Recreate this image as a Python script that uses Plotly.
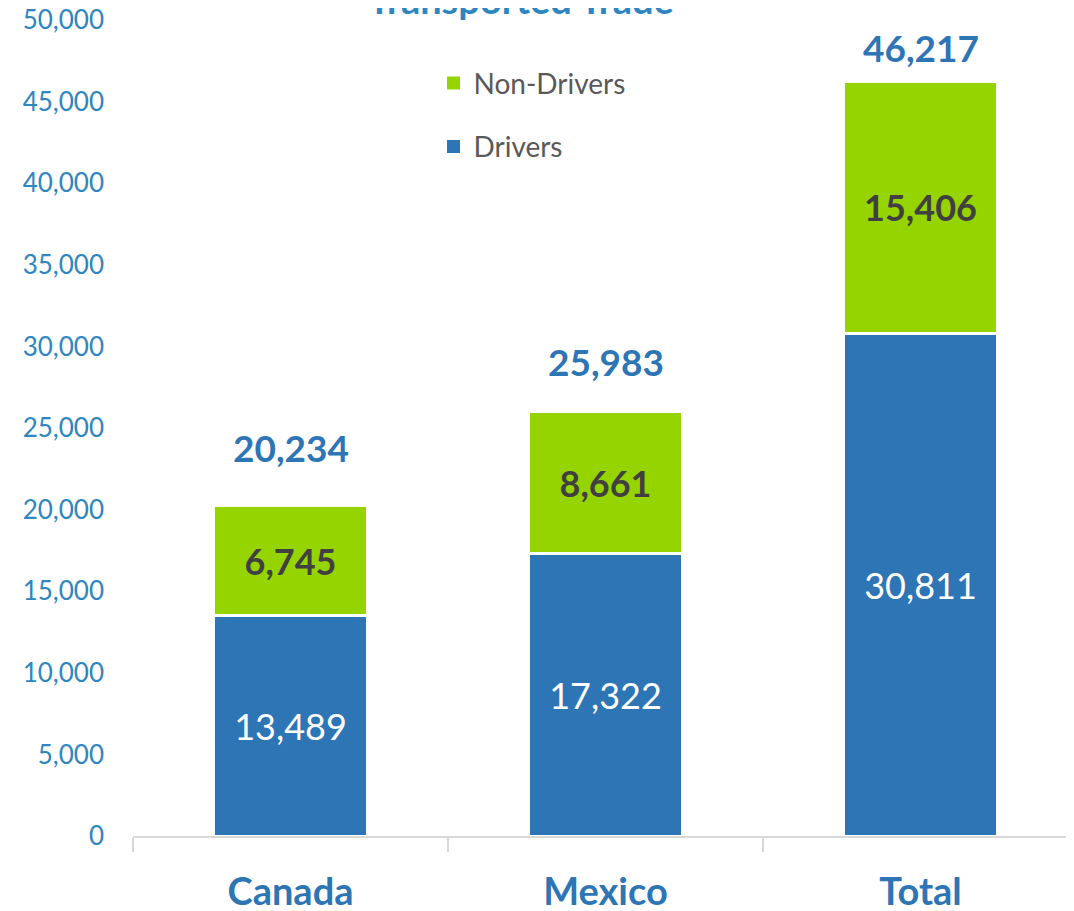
import plotly.graph_objects as go

# 数据
categories = ["Canada", "Mexico", "Total"]
drivers = [13489, 17322, 30811]
non_drivers = [6745, 8661, 15406]
totals = [20234, 25983, 46217]
y_ticks = [0, 5000, 10000, 15000, 20000, 25000, 30000, 35000, 40000, 45000, 50000]

BLUE = "#2E75B6"
GREEN = "#96D400"
FONT = "Lato"
TOTAL_SHIFT = [34, 26, 10]  # 合计标签离柱顶的像素距离（原图不等距）

fig = go.Figure()
fig.add_trace(go.Bar(x=categories, y=drivers, name="Drivers", showlegend=False,
                     marker=dict(color=BLUE, line=dict(color="white", width=3)),
                     text=[f"{v:,}" for v in drivers], textposition="inside",
                     insidetextanchor="middle", textangle=0,
                     insidetextfont=dict(family=FONT, size=36, color="white")))
fig.add_trace(go.Bar(x=categories, y=non_drivers, name="Non-Drivers", showlegend=False,
                     marker=dict(color=GREEN, line=dict(color="white", width=3)),
                     text=[f"<b>{v:,}</b>" for v in non_drivers], textposition="inside",
                     insidetextanchor="middle", textangle=0,
                     insidetextfont=dict(family=FONT, size=36, color="#404040")))

# 图例：方块标记（柱子的白边会把图例方块吃掉）
for name, color, rank in [("Non-Drivers", GREEN, 1), ("Drivers", BLUE, 2)]:
    fig.add_trace(go.Scatter(x=[None], y=[None], mode="markers", name=name,
                             legendgroup=name, legendrank=rank,
                             marker=dict(symbol="square", size=13, color=color)))

# 合计标签
for c, t, s in zip(categories, totals, TOTAL_SHIFT):
    fig.add_annotation(x=c, y=t, text=f"<b>{t:,}</b>", showarrow=False,
                       yanchor="bottom", yshift=s,
                       font=dict(family=FONT, size=37, color=BLUE))

# 标题（被裁切）
fig.add_annotation(xref="paper", yref="paper", x=0.411, y=0.995, yanchor="bottom",
                   text="<b>Transported Trade</b>", showarrow=False,
                   font=dict(family=FONT, size=38, color="#2E86C1"))

# 页面 body 有 8px 边距，边距里扣掉
fig.update_layout(
    width=1074, height=911, barmode="stack", bargap=0.51,
    plot_bgcolor="white", paper_bgcolor="white",
    margin=dict(l=125, r=4, t=12, b=83),
    font=dict(family=FONT),
    legend=dict(x=0.318, y=0.953, xanchor="left", yanchor="top",
                traceorder="grouped", tracegroupgap=24,
                font=dict(family=FONT, size=28, color="#595959"),
                bgcolor="rgba(0,0,0,0)"),
    xaxis=dict(automargin=False, showline=True, linecolor="#D9D9D9", linewidth=2,
               ticks="outside", tickson="boundaries", ticklen=14,
               tickcolor="#D9D9D9", tickwidth=2, ticklabelstandoff=21,
               ticklabeloverflow="allow",
               tickfont=dict(family=FONT, size=38, color=BLUE),
               tickprefix="<b>", ticksuffix="</b>"),
    yaxis=dict(automargin=False, range=[0, 50000], tickvals=y_ticks, tickformat=",",
               showgrid=False, zeroline=False, showline=False,
               ticklabelstandoff=28, ticklabeloverflow="allow",
               tickfont=dict(family=FONT, size=26, color="#2E86C1")),
)

fig.write_html("out.html")
